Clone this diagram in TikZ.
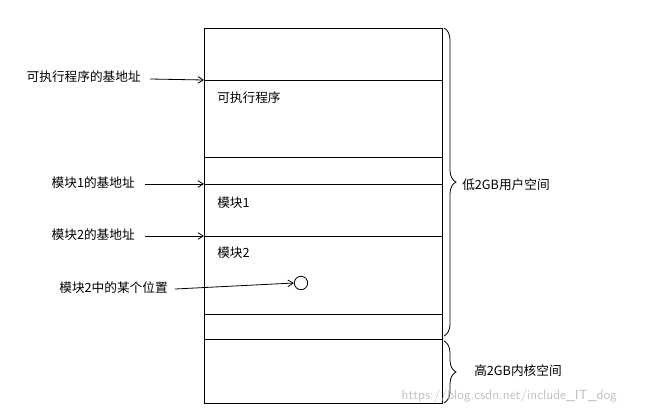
\documentclass[tikz,border=0pt]{standalone}
\usepackage{fontspec}
\setmainfont{Liberation Serif}
\newfontfamily\cjk{Noto Sans CJK SC}
\usetikzlibrary{decorations.pathreplacing,arrows.meta}
\begin{document}
\begin{tikzpicture}[x=0.75pt,y=-0.75pt,
  lbl/.style={font=\cjk\fontsize{9.5}{11}\selectfont,inner sep=0pt},
  arr/.style={-{Straight Barb[length=4pt,width=5pt]},line width=0.6pt},
  ln/.style={line width=0.6pt},
  br/.style={decorate,decoration={brace,amplitude=9pt},line width=0.6pt}]
\useasboundingbox (0,0) rectangle (661,411);
\draw[ln] (204,28) rectangle (442,403);
\foreach \y in {80,157,184,236,314,339} \draw[ln] (204,\y) -- (442,\y);
\coordinate (e) at (204,80);
\coordinate (m1) at (204,184);
\coordinate (m2) at (204,236);
\node[lbl,anchor=west] at (217,98) {可执行程序};
\node[lbl,anchor=west] at (217,203) {模块1};
\node[lbl,anchor=west] at (217,253) {模块2};
\node[lbl,anchor=east] (le) at (141,77) {可执行程序的基地址};
\node[lbl,anchor=east] (l1) at (135,183) {模块1的基地址};
\node[lbl,anchor=east] (l2) at (135,235) {模块2的基地址};
\node[lbl,anchor=east] (l3) at (168,288) {模块2中的某个位置};
\node[draw,circle,minimum size=10pt,inner sep=0pt,line width=0.6pt] (c) at (301,283) {};
\draw[arr] (150,79) -- (e);
\draw[arr] (145,184) -- (m1);
\draw[arr] (145,236) -- (m2);
\draw[arr] (175,289) -- (c.west);
\draw[br] (444,28) -- (444,336) coordinate[midway] (b1);
\draw[br] (444,341) -- (444,403);
\node[lbl,anchor=west] (u) at (462,185) {低2GB用户空间};
\node[lbl,anchor=west] (k) at (474,371) {高2GB内核空间};
\node[anchor=west,text=black!25,font=\sffamily\fontsize{10}{12}\selectfont] at (397,396) {https://blog.csdn.net/include\_IT\_dog};
\end{tikzpicture}
\end{document}
